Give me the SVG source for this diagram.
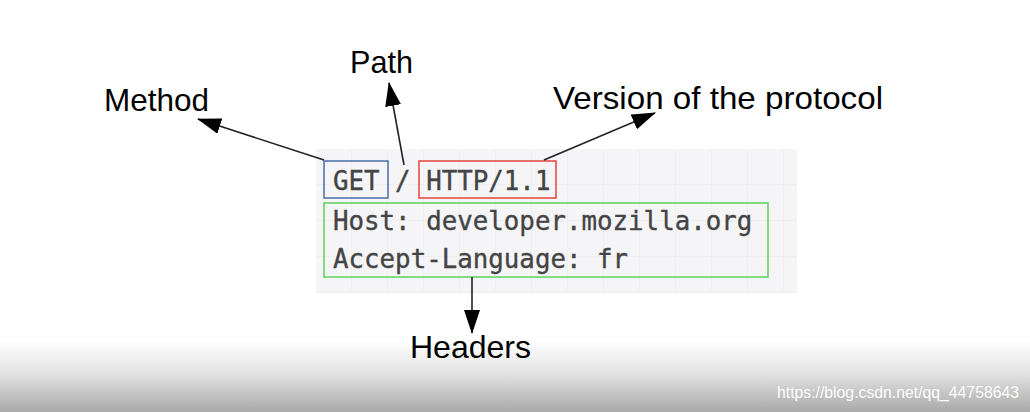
<svg xmlns="http://www.w3.org/2000/svg" width="1030" height="412" viewBox="0 0 1030 412">
<defs>
<linearGradient id="bottom" x1="0" y1="340" x2="0" y2="412" gradientUnits="userSpaceOnUse">
<stop offset="0" stop-color="#ffffff"/>
<stop offset="0.45" stop-color="#e4e4e4"/>
<stop offset="1" stop-color="#a9a9a9"/>
</linearGradient>
<pattern id="grid" x="316" y="149" width="36" height="36" patternUnits="userSpaceOnUse">
<path d="M36,0 V36 M0,36 H36" fill="none" stroke="#e9e9ec" stroke-width="1"/>
</pattern>
<marker id="arrow" markerUnits="userSpaceOnUse" viewBox="0 0 24 16" markerWidth="24" markerHeight="16" refX="23" refY="8" orient="auto">
<path d="M0,0 L24,8 L0,16 z" fill="#000"/>
</marker>
</defs>
<style>
.label{font-family:"Liberation Sans",Arial,sans-serif;font-size:31.5px;fill:#000}
.code{font-family:"DejaVu Sans Mono","Liberation Mono",monospace;font-size:25.8px;fill:#444;stroke:#444;stroke-width:0.35}
.conn{stroke:#222;stroke-width:1.6;fill:none;marker-end:url(#arrow)}
</style>
<rect x="0" y="0" width="1030" height="412" fill="#fff"/>
<rect x="0" y="340" width="1030" height="72" fill="url(#bottom)"/>
<g id="code-panel">
<rect x="316" y="149" width="481" height="144" fill="#f5f5f7"/>
<rect x="316" y="149" width="481" height="144" fill="url(#grid)"/>
<text class="code" x="333" y="190">GET / HTTP/1.1</text>
<text class="code" x="333" y="230">Host: developer.mozilla.org</text>
<text class="code" x="333" y="268">Accept-Language: fr</text>
</g>
<g id="method-box"><rect x="324" y="161" width="64" height="37" fill="none" stroke="#4a6ea8" stroke-width="1.5"/></g>
<g id="version-box"><rect x="419" y="161" width="137" height="37" fill="none" stroke="#e5433b" stroke-width="1.5"/></g>
<g id="headers-box"><rect x="324" y="203" width="444" height="74" fill="none" stroke="#5cd25c" stroke-width="1.5"/></g>
<g id="method-label"><text class="label" x="104" y="111" textLength="105" lengthAdjust="spacingAndGlyphs">Method</text></g>
<g id="path-label"><text class="label" x="350" y="73" textLength="63" lengthAdjust="spacingAndGlyphs">Path</text></g>
<g id="version-label"><text class="label" x="553" y="109" textLength="330" lengthAdjust="spacingAndGlyphs">Version of the protocol</text></g>
<g id="headers-label"><text class="label" x="410" y="358" textLength="121" lengthAdjust="spacingAndGlyphs">Headers</text></g>
<g id="connectors">
<line class="conn" x1="324" y1="160" x2="198" y2="119"/>
<line class="conn" x1="404" y1="165" x2="389" y2="83"/>
<line class="conn" x1="544" y1="160" x2="655" y2="113"/>
<line class="conn" x1="472" y1="277" x2="472" y2="333"/>
</g>
<g id="watermark">
<text x="777" y="398" font-family="Liberation Sans,Arial,sans-serif" font-size="16.5" fill="#fff" textLength="242" lengthAdjust="spacingAndGlyphs" style="paint-order:stroke" stroke="#bdbdbd" stroke-width="0.6">https://blog.csdn.net/qq_44758643</text>
</g>
</svg>
